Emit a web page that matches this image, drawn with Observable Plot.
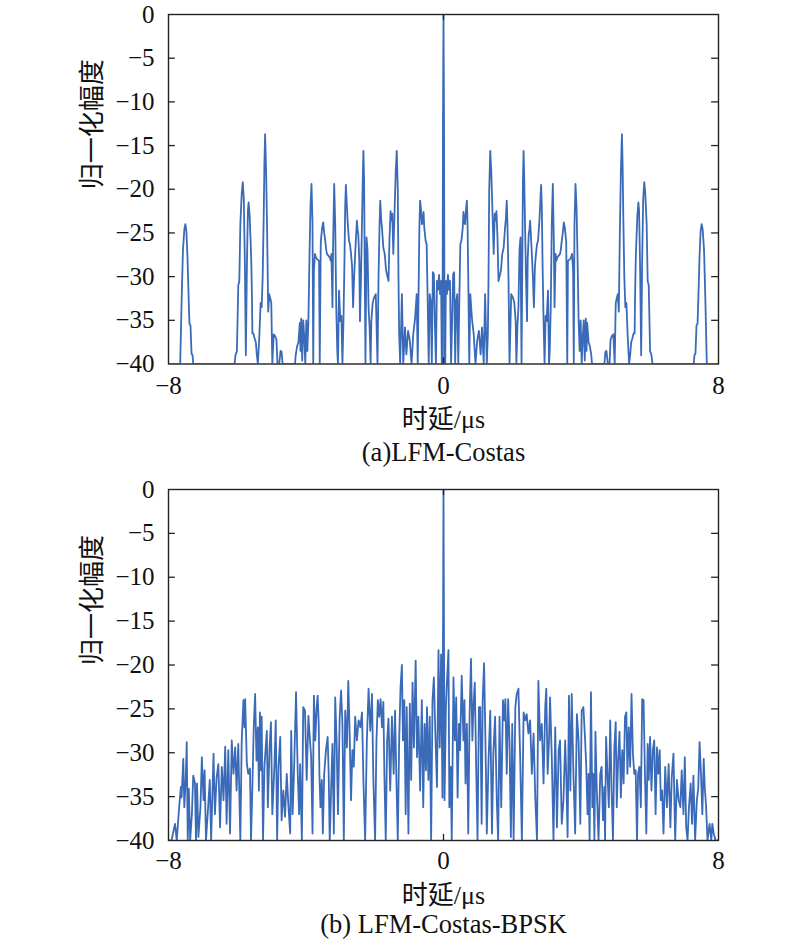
<!DOCTYPE html>
<html>
<head>
<meta charset="utf-8">
<script src="https://cdn.jsdelivr.net/npm/d3@7"></script>
<script src="https://cdn.jsdelivr.net/npm/@observablehq/plot@0.6"></script>
<style>
  html, body { margin: 0; padding: 0; background: #fff; }
  #wrap { width: 800px; height: 944px; }
  #wrap svg { display: block; }
</style>
</head>
<body>
<div id="wrap"></div>
<script>
// ---- shared axis/tick values ----
const xTicks = [-8, 0, 8];
const yTicks = [-40, -35, -30, -25, -20, -15, -10, -5, 0];
const innerYTicks = [-35, -30, -25, -20, -15, -10, -5];
const yLabel = "归一化幅度";
const xLabel = "时延/μs";
const captionA = "(a)LFM-Costas";
const captionB = "(b) LFM-Costas-BPSK";

// ---- panel (a): LFM-Costas, [delay μs, normalised level dB] ----
const costasA = [
[-8.00,-40],[-7.66,-40],[-7.62,-33],[-7.58,-27],[-7.54,-24.6],[-7.51,-24],[-7.48,-24.8],[-7.45,-27.5],[-7.41,-33],[-7.39,-35.4],[-7.36,-35.6],[-7.33,-38.8],[-7.30,-39],[-7.28,-40],
[-6.08,-40],[-6.05,-39],[-6.01,-38.5],[-5.97,-31],[-5.94,-30.5],[-5.91,-24],[-5.87,-20.5],[-5.84,-19.2],[-5.81,-21],[-5.78,-28],[-5.75,-39],[-5.72,-29],[-5.69,-22.5],[-5.67,-21.5],[-5.64,-23],[-5.61,-26],[-5.59,-28.5],[-5.57,-33],[-5.56,-36.5],[-5.53,-36.5],[-5.50,-37],[-5.46,-37.5],[-5.43,-39],[-5.40,-40],[-5.36,-37],[-5.32,-33],[-5.29,-33.5],[-5.26,-30],[-5.23,-23],[-5.21,-17],[-5.19,-13.7],[-5.16,-18],[-5.13,-25],[-5.10,-34],[-5.07,-32],[-5.04,-32.5],[-5.01,-33],[-4.98,-40],[-4.94,-36.6],[-4.90,-36.8],[-4.86,-37.2],[-4.83,-40],[-4.78,-40],[-4.74,-38.5],[-4.71,-38.6],[-4.68,-40],
[-4.32,-40],[-4.30,-39],[-4.26,-38],[-4.22,-37.5],[-4.18,-35.3],[-4.16,-38.5],[-4.14,-34.8],[-4.11,-39.6],[-4.08,-35],[-4.05,-37],[-4.02,-40],[-3.99,-35],[-3.96,-38.5],[-3.93,-35],[-3.90,-28],[-3.87,-22],[-3.84,-19.4],[-3.81,-24],[-3.79,-40],[-3.77,-29.3],[-3.74,-27.4],[-3.71,-27.8],[-3.68,-28],[-3.62,-28.2],[-3.60,-40],[-3.57,-26],[-3.53,-24.4],[-3.50,-23.8],[-3.47,-25],[-3.44,-25.9],[-3.41,-27],[-3.39,-27.4],[-3.35,-27.6],[-3.31,-27.8],[-3.28,-28.2],[-3.26,-27.4],[-3.23,-33.5],[-3.21,-26],[-3.18,-19.4],[-3.15,-24],[-3.12,-33.5],[-3.09,-38.5],[-3.07,-40],[-3.04,-31.6],[-3.00,-35.1],[-2.97,-34.5],[-2.94,-40],[-2.91,-35],[-2.88,-28],[-2.86,-22],[-2.84,-19.5],[-2.81,-22],[-2.79,-23.6],[-2.75,-25.9],[-2.72,-26.3],[-2.69,-27.4],[-2.66,-28.8],[-2.63,-33.5],[-2.60,-30],[-2.57,-27.4],[-2.52,-23.6],[-2.50,-24.6],[-2.48,-25.1],[-2.45,-28],[-2.43,-35.1],[-2.40,-30],[-2.37,-23.6],[-2.35,-19],[-2.33,-15.6],[-2.31,-19],[-2.29,-30],[-2.27,-40],[-2.24,-25.5],[-2.21,-27],[-2.18,-33.5],[-2.15,-35.8],[-2.12,-40],[-2.10,-35.1],[-2.06,-33],[-2.02,-32.4],[-1.97,-32],[-1.92,-40],[-1.89,-30],[-1.86,-24],[-1.84,-21.3],[-1.81,-23.6],[-1.79,-24.4],[-1.75,-26.7],[-1.71,-27.4],[-1.67,-29.3],[-1.63,-30],[-1.60,-30.5],[-1.57,-25.5],[-1.54,-22.5],[-1.52,-23.6],[-1.49,-22.8],[-1.46,-27.4],[-1.42,-22],[-1.39,-18],[-1.36,-15.6],[-1.33,-20],[-1.31,-30],[-1.29,-36.6],[-1.26,-40],[-1.21,-32],[-1.17,-40],[-1.12,-35.8],[-1.08,-38.9],[-1.03,-36.2],[-0.98,-37.3],[-0.93,-40],[-0.88,-36.6],[-0.83,-34.9],[-0.78,-32],[-0.75,-40],[-0.72,-30],[-0.70,-24],[-0.68,-21.3],[-0.65,-22.5],[-0.63,-24],[-0.61,-23.8],[-0.58,-22.6],[-0.56,-24.4],[-0.52,-25.9],[-0.49,-26.3],[-0.46,-32.8],[-0.43,-40],[-0.40,-32],[-0.37,-32.8],[-0.34,-40],[-0.31,-29.5],[-0.28,-29.7],[-0.25,-35.5],[-0.22,-40],[-0.19,-30.5],[-0.16,-31.5],[-0.13,-29.8],[-0.10,-32],[-0.07,-30.5],[-0.05,-40],[-0.03,-40],[-0.015,-12],
[0,0],
[0.015,-12],[0.03,-40],[0.05,-40],[0.07,-30.5],[0.10,-32],[0.13,-29.8],[0.16,-31.5],[0.19,-30.5],[0.22,-40],[0.25,-35.5],[0.28,-29.7],[0.31,-29.5],[0.34,-40],[0.37,-32.8],[0.40,-32],[0.43,-40],[0.46,-32.8],[0.49,-26.3],[0.52,-25.9],[0.56,-24.4],[0.58,-22.6],[0.61,-23.8],[0.63,-24],[0.65,-22.5],[0.68,-21.3],[0.70,-24],[0.72,-30],[0.75,-40],[0.78,-32],[0.83,-34.9],[0.88,-36.6],[0.93,-40],[0.98,-37.3],[1.03,-36.2],[1.08,-38.9],[1.12,-35.8],[1.17,-40],[1.21,-32],[1.26,-40],[1.29,-36.6],[1.31,-30],[1.33,-20],[1.36,-15.6],[1.39,-18],[1.42,-22],[1.46,-27.4],[1.49,-22.8],[1.52,-23.6],[1.54,-22.5],[1.57,-25.5],[1.60,-30.5],[1.63,-30],[1.67,-29.3],[1.71,-27.4],[1.75,-26.7],[1.79,-24.4],[1.81,-23.6],[1.84,-21.3],[1.86,-24],[1.89,-30],[1.92,-40],[1.97,-32],[2.02,-32.4],[2.06,-33],[2.10,-35.1],[2.12,-40],[2.15,-35.8],[2.18,-33.5],[2.21,-27],[2.24,-25.5],[2.27,-40],[2.29,-30],[2.31,-19],[2.33,-15.6],[2.35,-19],[2.37,-23.6],[2.40,-30],[2.43,-35.1],[2.45,-28],[2.48,-25.1],[2.50,-24.6],[2.52,-23.6],[2.57,-27.4],[2.60,-30],[2.63,-33.5],[2.66,-28.8],[2.69,-27.4],[2.72,-26.3],[2.75,-25.9],[2.79,-23.6],[2.81,-22],[2.84,-19.5],[2.86,-22],[2.88,-28],[2.91,-35],[2.94,-40],[2.97,-34.5],[3.00,-35.1],[3.04,-31.6],[3.07,-40],[3.09,-38.5],[3.12,-33.5],[3.15,-24],[3.18,-19.4],[3.21,-26],[3.23,-33.5],[3.26,-27.4],[3.28,-28.2],[3.31,-27.8],[3.35,-27.6],[3.39,-27.4],[3.41,-27],[3.44,-25.9],[3.47,-25],[3.50,-23.8],[3.53,-24.4],[3.57,-26],[3.60,-40],[3.62,-28.2],[3.68,-28],[3.71,-27.8],[3.74,-27.4],[3.77,-29.3],[3.79,-40],[3.81,-24],[3.84,-19.4],[3.87,-22],[3.90,-28],[3.93,-35],[3.96,-38.5],[3.99,-35],[4.02,-40],[4.05,-37],[4.08,-35],[4.11,-39.6],[4.14,-34.8],[4.16,-38.5],[4.18,-35.3],[4.22,-37.5],[4.26,-38],[4.30,-39],[4.32,-40],
[4.68,-40],[4.71,-38.6],[4.74,-38.5],[4.78,-40],[4.83,-40],[4.86,-37.2],[4.90,-36.8],[4.94,-36.6],[4.98,-40],[5.01,-33],[5.04,-32.5],[5.07,-32],[5.10,-34],[5.13,-25],[5.16,-18],[5.19,-13.7],[5.21,-17],[5.23,-23],[5.26,-30],[5.29,-33.5],[5.32,-33],[5.36,-37],[5.40,-40],[5.43,-39],[5.46,-37.5],[5.50,-37],[5.53,-36.5],[5.56,-36.5],[5.57,-33],[5.59,-28.5],[5.61,-26],[5.64,-23],[5.67,-21.5],[5.69,-22.5],[5.72,-29],[5.75,-39],[5.78,-28],[5.81,-21],[5.84,-19.2],[5.87,-20.5],[5.91,-24],[5.94,-30.5],[5.97,-31],[6.01,-38.5],[6.05,-39],[6.08,-40],
[7.28,-40],[7.30,-39],[7.33,-38.8],[7.36,-35.6],[7.39,-35.4],[7.41,-33],[7.45,-27.5],[7.48,-24.8],[7.51,-24],[7.54,-24.6],[7.58,-27],[7.62,-33],[7.66,-40],[8.00,-40]
];

// ---- panel (b): LFM-Costas-BPSK, [delay μs, normalised level dB] ----
const costasB = [
[-8.00,-40],[-7.91,-40],[-7.86,-39.0],[-7.81,-38.1],[-7.76,-40],[-7.69,-36.2],[-7.64,-33.9],[-7.62,-35.1],[-7.57,-30.7],[-7.54,-36.2],[-7.50,-33.1],[-7.47,-28.8],[-7.44,-40],[-7.41,-34.1],[-7.37,-40],[-7.32,-37.0],[-7.28,-32.6],[-7.23,-33.5],[-7.20,-40],[-7.17,-33.5],[-7.13,-39.6],[-7.07,-36.2],[-7.03,-30.5],[-6.98,-35.4],[-6.95,-32.0],[-6.91,-40],[-6.86,-37.0],[-6.80,-33.1],[-6.76,-40],[-6.69,-30.1],[-6.65,-37.0],[-6.60,-32.8],[-6.55,-31.3],[-6.50,-38.5],[-6.45,-31.6],[-6.40,-35.4],[-6.35,-29.3],[-6.31,-38.1],[-6.26,-29.7],[-6.21,-39.2],[-6.16,-28.6],[-6.11,-32.4],[-6.06,-29.4],[-6.02,-34.3],[-5.97,-29.0],[-5.91,-40],[-5.87,-28.6],[-5.82,-24.0],[-5.79,-27.1],[-5.77,-23.9],[-5.72,-31.3],[-5.68,-32.4],[-5.63,-31.8],[-5.60,-40],[-5.56,-33.9],[-5.52,-27.1],[-5.48,-23.3],[-5.44,-30.9],[-5.40,-27.1],[-5.37,-34.3],[-5.34,-25.4],[-5.31,-32.0],[-5.29,-25.9],[-5.25,-40],[-5.21,-31.6],[-5.14,-27.5],[-5.11,-36.2],[-5.06,-29.4],[-5.02,-26.5],[-4.98,-37.0],[-4.92,-31.6],[-4.88,-26.3],[-4.84,-40],[-4.80,-31.6],[-4.75,-28.2],[-4.71,-37.7],[-4.66,-34.3],[-4.61,-37.3],[-4.56,-32.4],[-4.51,-36.2],[-4.46,-39.2],[-4.43,-27.5],[-4.39,-37.0],[-4.35,-32.4],[-4.29,-23.1],[-4.24,-32.4],[-4.20,-37.0],[-4.17,-31.3],[-4.12,-40],[-4.08,-24.8],[-4.03,-25.2],[-3.98,-33.1],[-3.93,-25.8],
[-3.91,-27.1],[-3.85,-30.5],[-3.81,-39.2],[-3.77,-23.5],[-3.73,-28.6],[-3.69,-24.8],[-3.66,-23.5],[-3.63,-26.7],[-3.61,-32.4],[-3.58,-36.2],[-3.54,-33.1],[-3.51,-39.2],[-3.47,-32.4],[-3.42,-29.7],[-3.37,-28.2],[-3.34,-32.4],[-3.31,-40],[-3.27,-34.3],[-3.23,-29.0],[-3.19,-39.2],[-3.15,-23.7],[-3.11,-28.6],[-3.07,-37.0],[-3.02,-25.9],[-2.98,-22.9],[-2.94,-26.7],[-2.90,-40],[-2.86,-25.2],[-2.81,-29.4],[-2.77,-21.8],[-2.73,-27.8],[-2.69,-35.4],[-2.65,-29.7],[-2.61,-31.6],[-2.57,-25.9],[-2.52,-28.6],[-2.47,-26.3],[-2.42,-27.1],[-2.37,-25.4],[-2.33,-33.1],[-2.28,-40],[-2.23,-28.6],[-2.18,-22.7],[-2.13,-27.5],[-2.08,-23.3],[-2.04,-33.1],[-1.99,-40],[-1.95,-28.6],[-1.91,-24.0],[-1.87,-25.9],[-1.83,-23.9],[-1.79,-27.1],[-1.75,-24.2],[-1.72,-32.4],[-1.68,-40],[-1.64,-28.6],[-1.60,-26.1],[-1.55,-34.3],[-1.50,-25.9],[-1.45,-32.4],[-1.41,-25.2],[-1.37,-33.1],[-1.33,-40],[-1.29,-28.6],[-1.25,-22.5],[-1.21,-20.0],[-1.18,-28.6],[-1.14,-24.0],[-1.10,-37.0],[-1.07,-24.8],[-1.02,-39.2],[-0.98,-24.4],[-0.94,-33.1],[-0.90,-22.0],[-0.86,-29.4],[-0.81,-19.5],[-0.77,-30.5],[-0.73,-25.9],[-0.68,-34.3],[-0.63,-24.0],[-0.59,-36.2],[-0.55,-26.7],[-0.51,-32.0],[-0.48,-24.8],[-0.44,-33.1],[-0.40,-25.9],[-0.36,-40],[-0.32,-24.0],[-0.28,-21.4],[-0.24,-27.5],[-0.19,-33.9],[-0.145,-18.3],[-0.11,-29.4],[-0.07,-18.8],[-0.03,-35.1],
[0,0],
[0.03,-35.4],[0.07,-24.8],[0.10,-22.0],[0.145,-18.3],[0.17,-36.2],[0.21,-31.6],[0.24,-40],[0.29,-21.4],[0.33,-28.6],[0.37,-23.7],[0.41,-35.1],[0.45,-26.7],[0.48,-29.7],[0.53,-21.2],[0.58,-28.6],[0.61,-24.0],[0.64,-33.5],[0.68,-26.7],[0.72,-39.2],[0.76,-25.6],[0.80,-19.3],[0.84,-28.6],[0.87,-24.8],[0.91,-22.0],[0.95,-31.6],[0.99,-40],[1.03,-24.8],[1.07,-24.8],[1.11,-38.1],[1.14,-24.0],[1.18,-19.8],[1.22,-28.6],[1.26,-39.2],[1.31,-30.9],[1.36,-25.2],[1.41,-39.2],[1.45,-30.1],[1.50,-25.9],[1.55,-35.4],[1.59,-40],[1.63,-25.9],[1.68,-36.2],[1.73,-24.0],[1.77,-26.3],[1.80,-23.9],[1.84,-32.4],[1.88,-23.9],[1.92,-28.6],[1.96,-39.6],[2.00,-26.7],[2.04,-40],[2.09,-24.8],[2.13,-23.3],[2.18,-22.7],[2.23,-30.5],[2.28,-40],[2.33,-25.4],[2.38,-26.3],[2.42,-25.6],[2.47,-27.8],[2.52,-26.3],[2.57,-32.4],[2.62,-27.8],[2.67,-35.1],[2.72,-40],[2.76,-21.8],[2.81,-28.6],[2.86,-26.7],[2.91,-33.5],[2.96,-24.8],[2.99,-22.7],[3.03,-32.4],[3.07,-28.6],[3.10,-23.7],[3.15,-30.5],[3.20,-40],[3.25,-27.1],[3.30,-38.5],[3.35,-29.7],[3.39,-28.6],[3.44,-38.1],[3.49,-35.4],[3.54,-28.6],[3.57,-32.4],[3.61,-39.6],[3.65,-23.5],[3.69,-34.3],[3.73,-23.3],[3.78,-32.4],[3.83,-39.2],[3.88,-25.6],[3.93,-28.6],[3.98,-38.1],[4.02,-25.2],[4.07,-24.8],[4.12,-28.6],
[4.15,-31.3],[4.19,-37.0],[4.22,-32.4],[4.25,-40],[4.29,-23.1],[4.33,-36.2],[4.36,-32.4],[4.39,-40],[4.42,-27.6],[4.46,-34.3],[4.51,-40],[4.56,-32.4],[4.60,-31.6],[4.64,-37.7],[4.68,-33.9],[4.70,-40],[4.73,-28.2],[4.77,-32.4],[4.81,-36.2],[4.85,-26.3],[4.89,-34.3],[4.93,-40],[4.97,-29.4],[5.01,-26.5],[5.04,-36.2],[5.08,-30.9],[5.12,-27.6],[5.16,-35.1],[5.20,-29.7],[5.24,-33.5],[5.28,-25.9],[5.32,-25.4],[5.35,-32.4],[5.39,-27.1],[5.43,-31.6],[5.47,-23.3],[5.51,-30.1],[5.55,-32.4],[5.59,-32.0],[5.63,-40],[5.66,-32.4],[5.70,-31.6],[5.74,-36.2],[5.78,-23.9],[5.82,-24.0],[5.86,-32.4],[5.90,-39.2],[5.94,-29.0],[5.97,-33.1],[6.01,-28.2],[6.05,-34.3],[6.09,-29.7],[6.13,-28.6],[6.17,-37.0],[6.21,-29.4],[6.25,-32.4],[6.29,-29.7],[6.32,-35.4],[6.36,-34.3],[6.40,-39.2],[6.45,-31.6],[6.50,-36.2],[6.55,-31.3],[6.60,-38.5],[6.64,-32.8],[6.69,-30.1],[6.74,-40],[6.79,-33.1],[6.84,-35.4],[6.89,-36.2],[6.93,-32.0],[6.98,-37.0],[7.02,-30.5],[7.06,-38.5],[7.10,-40],[7.14,-36.2],[7.19,-33.5],[7.23,-38.1],[7.27,-32.6],[7.32,-40],[7.37,-35.4],[7.41,-34.1],[7.45,-28.8],[7.49,-32.4],[7.53,-37.0],[7.57,-30.7],[7.60,-33.9],[7.64,-36.2],[7.68,-40],[7.74,-38.1],[7.79,-40],[7.82,-38.1],[7.86,-39.2],[7.89,-39.6],[7.91,-40],[8.00,-40]
];

const LINE = "#3a6ab8";
const INK = "#222";
const SERIF = "'Liberation Serif', 'Times New Roman', 'Noto Sans CJK SC', serif";
const CJK = "'Liberation Serif', 'Noto Sans CJK SC', sans-serif";
const minus = d => d3.format("")(d).replace("-", "−");

function panel(data, caption, opts) {
  const {marginTop, marginBottom, tickPad, labelDy, captionDy} = opts;
  return Plot.plot({
    width: 800,
    height: 472,
    marginLeft: 168,
    marginRight: 82,
    marginTop,
    marginBottom,
    style: {fontFamily: SERIF, fontSize: "25px", color: "#111", background: "#fff", overflow: "visible"},
    x: {domain: [-8, 8], ticks: xTicks},
    y: {domain: [-40, 0], ticks: yTicks},
    marks: [
      Plot.line(data, {x: d => d[0], y: d => d[1], stroke: LINE, strokeWidth: 1.8, clip: true}),
      Plot.frame({stroke: INK, strokeWidth: 1.4}),
      // inward ticks on all four sides
      Plot.ruleY(innerYTicks, {x1: -8, x2: -7.8, stroke: INK, strokeWidth: 1.3}),
      Plot.ruleY(innerYTicks, {x1: 7.8, x2: 8, stroke: INK, strokeWidth: 1.3}),
      Plot.ruleX([0], {y1: -40, y2: -39.3, stroke: INK, strokeWidth: 1.3}),
      Plot.ruleX([0], {y1: -0.7, y2: 0, stroke: INK, strokeWidth: 1.3}),
      Plot.axisX(xTicks, {anchor: "bottom", tickSize: 0, tickPadding: tickPad, label: null, tickFormat: minus, fontSize: 25}),
      Plot.axisY(yTicks, {anchor: "left", tickSize: 0, tickPadding: 14, label: null, tickFormat: minus, fontSize: 25}),
      Plot.text([yLabel], {text: d => d, frameAnchor: "left", dx: -76, rotate: -90, fontSize: 26, fontFamily: "'Noto Sans CJK SC', sans-serif", fill: "#111"}),
      Plot.text([xLabel], {text: d => d, frameAnchor: "bottom", dy: labelDy, lineAnchor: "middle", fontSize: 26, fontFamily: CJK, fill: "#111"}),
      Plot.text([caption], {text: d => d, frameAnchor: "bottom", dy: captionDy, lineAnchor: "middle", fontSize: 26.5, fontFamily: SERIF, fill: "#111"})
    ]
  });
}

const wrap = document.getElementById("wrap");
wrap.appendChild(panel(costasA, captionA, {marginTop: 14, marginBottom: 108.5, tickPad: 12, labelDy: 55.2, captionDy: 89}));
wrap.appendChild(panel(costasB, captionB, {marginTop: 17, marginBottom: 104, tickPad: 10.5, labelDy: 54.7, captionDy: 84.5}));
</script>
</body>
</html>
